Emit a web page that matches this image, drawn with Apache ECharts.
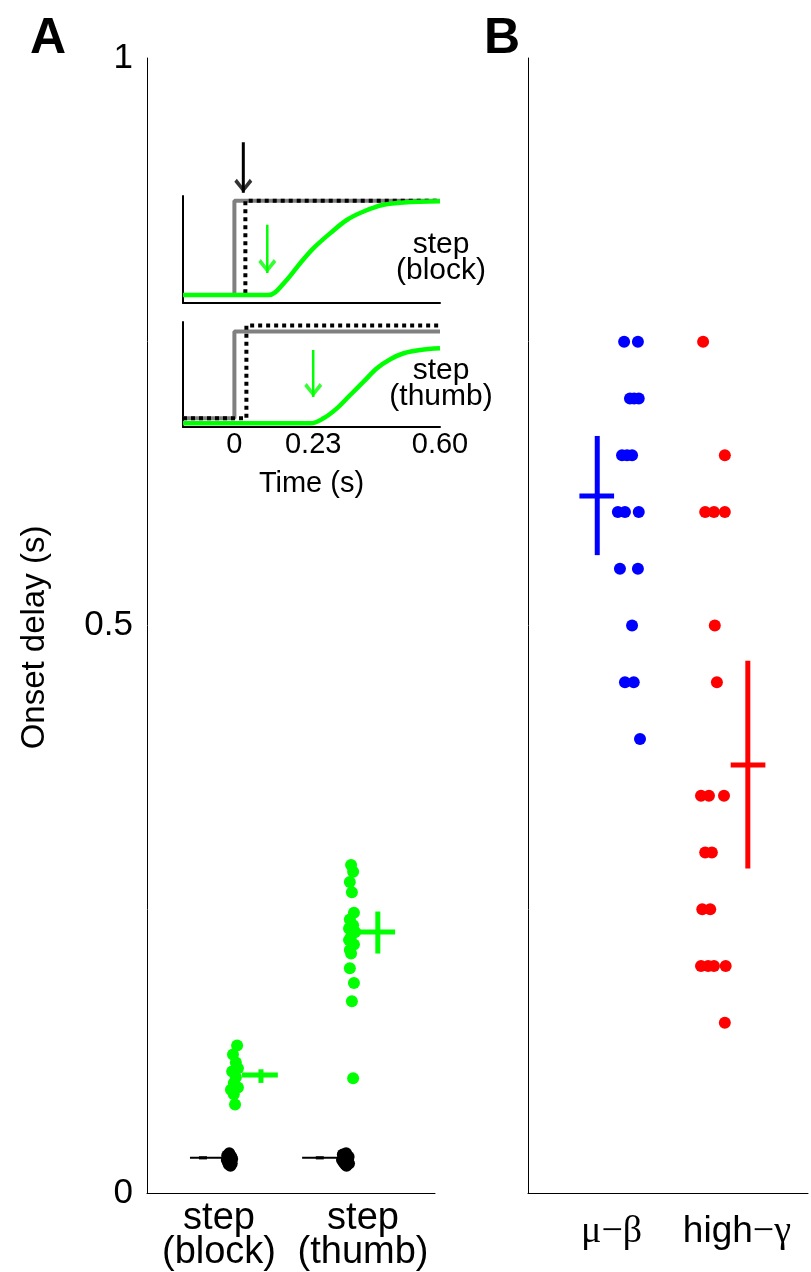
<!DOCTYPE html>
<html>
<head>
<meta charset="utf-8">
<script src="https://cdn.jsdelivr.net/npm/echarts@6/dist/echarts.min.js"></script>
<style>
html,body{margin:0;padding:0;background:#fff;}
#c{width:811px;height:1272px;}
</style>
</head>
<body>
<div id="c"></div>
<script>
// ---------- DATA ----------
const catA = ['step\n(block)', 'step\n(thumb)'];
const catB = ['μ−β', 'high−γ'];
const yTickLabels = ['0', '0.5', '1'];
const insetTickLabels = ['0', '0.23', '0.60'];

// Panel A: physical onset (black) and cursor onset (green); x = jitter position
const blockPhysY = [0.035, 0.033, 0.032, 0.031, 0.030, 0.029, 0.028, 0.027, 0.026, 0.025, 0.024];
const blockPhysX = [2.00, 1.95, 2.05, 1.98, 2.07, 1.94, 2.02, 1.97, 2.06, 1.99, 2.03];
const thumbPhysY = [0.035, 0.034, 0.032, 0.031, 0.030, 0.029, 0.028, 0.027, 0.026, 0.025, 0.024];
const thumbPhysX = [4.84, 4.76, 4.90, 4.80, 4.88, 4.74, 4.86, 4.78, 4.91, 4.82, 4.85];
const blockCurY = [0.130, 0.122, 0.115, 0.110, 0.107, 0.102, 0.097, 0.093, 0.091, 0.087, 0.078];
const blockCurX = [2.19, 2.09, 2.16, 2.21, 2.07, 2.16, 2.11, 2.21, 2.04, 2.11, 2.14];
const thumbCurY = [0.289, 0.283, 0.274, 0.265, 0.247, 0.241, 0.236, 0.233, 0.230, 0.226, 0.223, 0.219, 0.214, 0.211, 0.198, 0.185, 0.169, 0.101];
const thumbCurX = [4.96, 5.01, 4.93, 4.98, 5.03, 4.93, 5.01, 4.91, 5.06, 4.96, 4.91, 5.03, 4.93, 4.96, 4.93, 5.03, 4.98, 5.01];

// Panel B
const muBetaY = [0.75, 0.75, 0.70, 0.70, 0.70, 0.65, 0.65, 0.65, 0.60, 0.60, 0.60, 0.55, 0.55, 0.50, 0.45, 0.45, 0.40];
const muBetaX = [2.30, 2.63, 2.44, 2.54, 2.65, 2.25, 2.37, 2.49, 2.15, 2.32, 2.65, 2.20, 2.63, 2.49, 2.32, 2.53, 2.68];
const highGammaY = [0.75, 0.65, 0.60, 0.60, 0.60, 0.50, 0.45, 0.35, 0.35, 0.35, 0.30, 0.30, 0.25, 0.25, 0.20, 0.20, 0.20, 0.20, 0.15];
const highGammaX = [4.19, 4.71, 4.24, 4.45, 4.71, 4.47, 4.52, 4.14, 4.33, 4.69, 4.24, 4.40, 4.17, 4.36, 4.14, 4.31, 4.45, 4.73, 4.71];

// Summary statistics (mean and interval) per group
const summaryMean = [0.031, 0.031, 0.104, 0.230, 0.614, 0.377];
const summaryLo   = [0.0296, 0.0296, 0.097, 0.211, 0.562, 0.286];
const summaryHi   = [0.0324, 0.0324, 0.109, 0.248, 0.667, 0.469];

// Inset traces (time s, normalized position)
const cueStep          = [[-0.15, 0], [0, 0], [0, 1], [0.6, 1]];
const blockPhysTrace   = [[-0.15, 0], [0.032, 0], [0.032, 1], [0.6, 1]];
const thumbPhysTrace   = [[-0.15, 0], [0.035, 0], [0.035, 1.07], [0.6, 1.07]];
const blockCursorTrace = [[-0.15, 0], [0.100, 0], [0.144, 0.124], [0.192, 0.337], [0.231, 0.497], [0.280, 0.656], [0.329, 0.798], [0.377, 0.886], [0.435, 0.957], [0.494, 0.982], [0.60, 0.993]];
const thumbCursorTrace = [[-0.15, -0.058], [0.222, -0.058], [0.260, 0.0], [0.299, 0.115], [0.338, 0.269], [0.377, 0.422], [0.416, 0.577], [0.455, 0.681], [0.494, 0.750], [0.542, 0.788], [0.60, 0.807]];
// onset arrows: time, start value, tip value
const arrowTime  = [0.026, 0.096, 0.230];
const arrowStart = [1.62, 0.745, 0.788];
const arrowTip   = [1.085, 0.234, 0.246];

// ---------- LAYOUT / STYLE ----------
const FONT = 'Liberation Sans';
const GREEN = '#00ff00', BLUE = '#0000ff', RED = '#ff0000', GRAY = '#808080';
// per summary: [lineFrom, lineTo, crossX, color, hWidth, vWidth, grid]
const sumLayout = [
  [1.045, 1.85, 1.36, '#000', 2, 8, 0],
  [3.77, 4.62, 4.20, '#000', 2, 8, 0],
  [2.31, 3.18, 2.77, GREEN, 5, 5, 0],
  [5.13, 6.03, 5.61, GREEN, 5, 5, 0],
  [1.23, 2.06, 1.657, BLUE, 5, 5, 1],
  [4.85, 5.68, 5.26, RED, 5, 5, 1]
];
const arrowLayout = [ ['#000', 3, 2], [GREEN, 2.5, 2], [GREEN, 2.5, 3] ];

const zip = (xs, ys) => xs.map((x, i) => [x, ys[i]]);

function dots(xs, ys, color, gi) {
  return { type: 'scatter', xAxisIndex: gi, yAxisIndex: gi, data: zip(xs, ys),
    symbolSize: 12, itemStyle: { color: color, opacity: 1 }, silent: true, z: 3 };
}
function seg(data, color, w, gi, extra) {
  return Object.assign({ type: 'line', xAxisIndex: gi, yAxisIndex: gi, data: data,
    showSymbol: false, symbol: 'none', lineStyle: { color: color, width: w, cap: 'butt' },
    silent: true, animation: false, z: 4, clip: false }, extra || {});
}

const series = [];
series.push(dots(blockPhysX, blockPhysY, '#000', 0));
series.push(dots(thumbPhysX, thumbPhysY, '#000', 0));
series.push(dots(blockCurX, blockCurY, GREEN, 0));
series.push(dots(thumbCurX, thumbCurY, GREEN, 0));
series.push(dots(muBetaX, muBetaY, BLUE, 1));
series.push(dots(highGammaX, highGammaY, RED, 1));

summaryMean.forEach((m, i) => {
  const L = sumLayout[i];
  series.push(seg([[L[0], m], [L[1], m]], L[3], L[4], L[6]));
  series.push(seg([[L[2], summaryLo[i]], [L[2], summaryHi[i]]], L[3], L[5], L[6]));
});

// inset traces
series.push(seg(cueStep, GRAY, 4, 2, { z: 5 }));
series.push(seg(blockPhysTrace, '#000', 4, 2, { z: 6, lineStyle: { color: '#000', width: 4, type: [4, 4], cap: 'butt' } }));
series.push(seg(blockCursorTrace, GREEN, 4.5, 2, { z: 7, smooth: 0.35 }));
series.push(seg(cueStep, GRAY, 4, 3, { z: 5 }));
series.push(seg(thumbPhysTrace, '#000', 4, 3, { z: 6, lineStyle: { color: '#000', width: 4, type: [4, 4], cap: 'butt' } }));
series.push(seg(thumbCursorTrace, GREEN, 4.5, 3, { z: 7, smooth: 0.35 }));

// arrows
const headPath = 'path://M2.5,0 L9,8.5 L15.5,0 L18,3 L9,14 L0,3 Z';
arrowTime.forEach((t, i) => {
  const A = arrowLayout[i];
  series.push(seg([[t, arrowStart[i]], [t, arrowTip[i]]], A[0], A[1], A[2], { z: 8 }));
  series.push({ type: 'scatter', xAxisIndex: A[2], yAxisIndex: A[2], data: [[t, arrowTip[i]]],
    symbol: headPath, symbolSize: [18, 14], symbolOffset: [0, '-50%'], clip: false,
    itemStyle: { color: A[0] }, silent: true, z: 9 });
});

function valueX(gi, min, max, interval, extra) {
  return Object.assign({ type: 'value', gridIndex: gi, min: min, max: max, interval: interval,
    axisLine: { show: true, onZero: false, lineStyle: { color: '#000', width: 1 } },
    axisTick: { show: false }, splitLine: { show: false }, axisLabel: { show: false } }, extra || {});
}

const option = {
  animation: false,
  backgroundColor: '#fff',
  grid: [
    { left: 147, top: 58, width: 288, height: 1135 },
    { left: 528, top: 58, width: 283, height: 1135 },
    { left: 183, top: 196, width: 257, height: 107 },
    { left: 183, top: 322, width: 257, height: 105 }
  ],
  xAxis: [
    valueX(0, 0, 7, 0.25, { axisLabel: { show: true, margin: 9, color: '#000', fontFamily: FONT, fontSize: 38, lineHeight: 34,
      formatter: v => { const k = Math.round(v * 4); return k === 7 ? catA[0] : (k === 21 ? catA[1] : ''); } } }),
    valueX(1, 0, 6.7, 1, { axisLabel: { show: true, margin: 20, color: '#000', fontSize: 36,
      formatter: v => { const k = Math.round(v); return k === 2 ? '{s|' + catB[0] + '}' : (k === 5 ? '{a|high}{s|−γ}' : ''); },
      rich: { s: { fontFamily: 'Liberation Serif', fontSize: 38, color: '#000' }, a: { fontFamily: FONT, fontSize: 37, color: '#000' } } } }),
    valueX(2, -0.15, 0.6, 0.01, { axisLine: { show: true, onZero: false, lineStyle: { color: '#000', width: 2 } } }),
    valueX(3, -0.15, 0.6, 0.01, { axisLine: { show: true, onZero: false, lineStyle: { color: '#000', width: 2 } },
      axisLabel: { show: true, margin: 3, color: '#000', fontFamily: FONT, fontSize: 29, showMinLabel: false, showMaxLabel: true,
        formatter: v => { const k = Math.round(v * 100); return k === 0 ? insetTickLabels[0] : (k === 23 ? insetTickLabels[1] : (k === 60 ? insetTickLabels[2] : '')); } },
      name: 'Time (s)', nameLocation: 'middle', nameGap: 42, nameTextStyle: { color: '#000', fontFamily: FONT, fontSize: 29 } })
  ],
  yAxis: [
    { type: 'value', gridIndex: 0, min: 0, max: 1, interval: 0.5,
      axisLine: { show: true, lineStyle: { color: '#000', width: 1 } }, axisTick: { show: false }, splitLine: { show: false },
      axisLabel: { color: '#000', fontFamily: FONT, fontSize: 35, margin: 14,
        formatter: v => { const k = Math.round(v * 2); return yTickLabels[k]; } },
      name: 'Onset delay (s)', nameLocation: 'middle', nameGap: 96,
      nameTextStyle: { color: '#000', fontFamily: FONT, fontSize: 33, padding: [0, 24, 0, 0] } },
    { type: 'value', gridIndex: 1, min: 0, max: 1, interval: 0.5,
      axisLine: { show: true, lineStyle: { color: '#000', width: 1 } }, axisTick: { show: false }, splitLine: { show: false },
      axisLabel: { show: false } },
    { type: 'value', gridIndex: 2, min: -0.085, max: 1.05,
      axisLine: { show: true, onZero: false, lineStyle: { color: '#000', width: 2 } }, axisTick: { show: false }, splitLine: { show: false },
      axisLabel: { show: false } },
    { type: 'value', gridIndex: 3, min: -0.1, max: 1.11,
      axisLine: { show: true, onZero: false, lineStyle: { color: '#000', width: 2 } }, axisTick: { show: false }, splitLine: { show: false },
      axisLabel: { show: false } }
  ],
  graphic: [
    { type: 'text', left: 30, top: 14, style: { text: 'A', fontFamily: FONT, fontWeight: 'bold', fontSize: 50, fill: '#000' } },
    { type: 'text', left: 484, top: 14, style: { text: 'B', fontFamily: FONT, fontWeight: 'bold', fontSize: 50, fill: '#000' } },
    { type: 'text', x: 441, y: 258, z: 20, style: { text: 'step\n(block)', fontFamily: FONT, fontSize: 30, lineHeight: 26, align: 'center', verticalAlign: 'middle', fill: '#000' } },
    { type: 'text', x: 441, y: 384, z: 20, style: { text: 'step\n(thumb)', fontFamily: FONT, fontSize: 30, lineHeight: 26, align: 'center', verticalAlign: 'middle', fill: '#000' } }
  ],
  series: series
};

const chart = echarts.init(document.getElementById('c'), null, { renderer: 'canvas' });
chart.setOption(option);
</script>
</body>
</html>
